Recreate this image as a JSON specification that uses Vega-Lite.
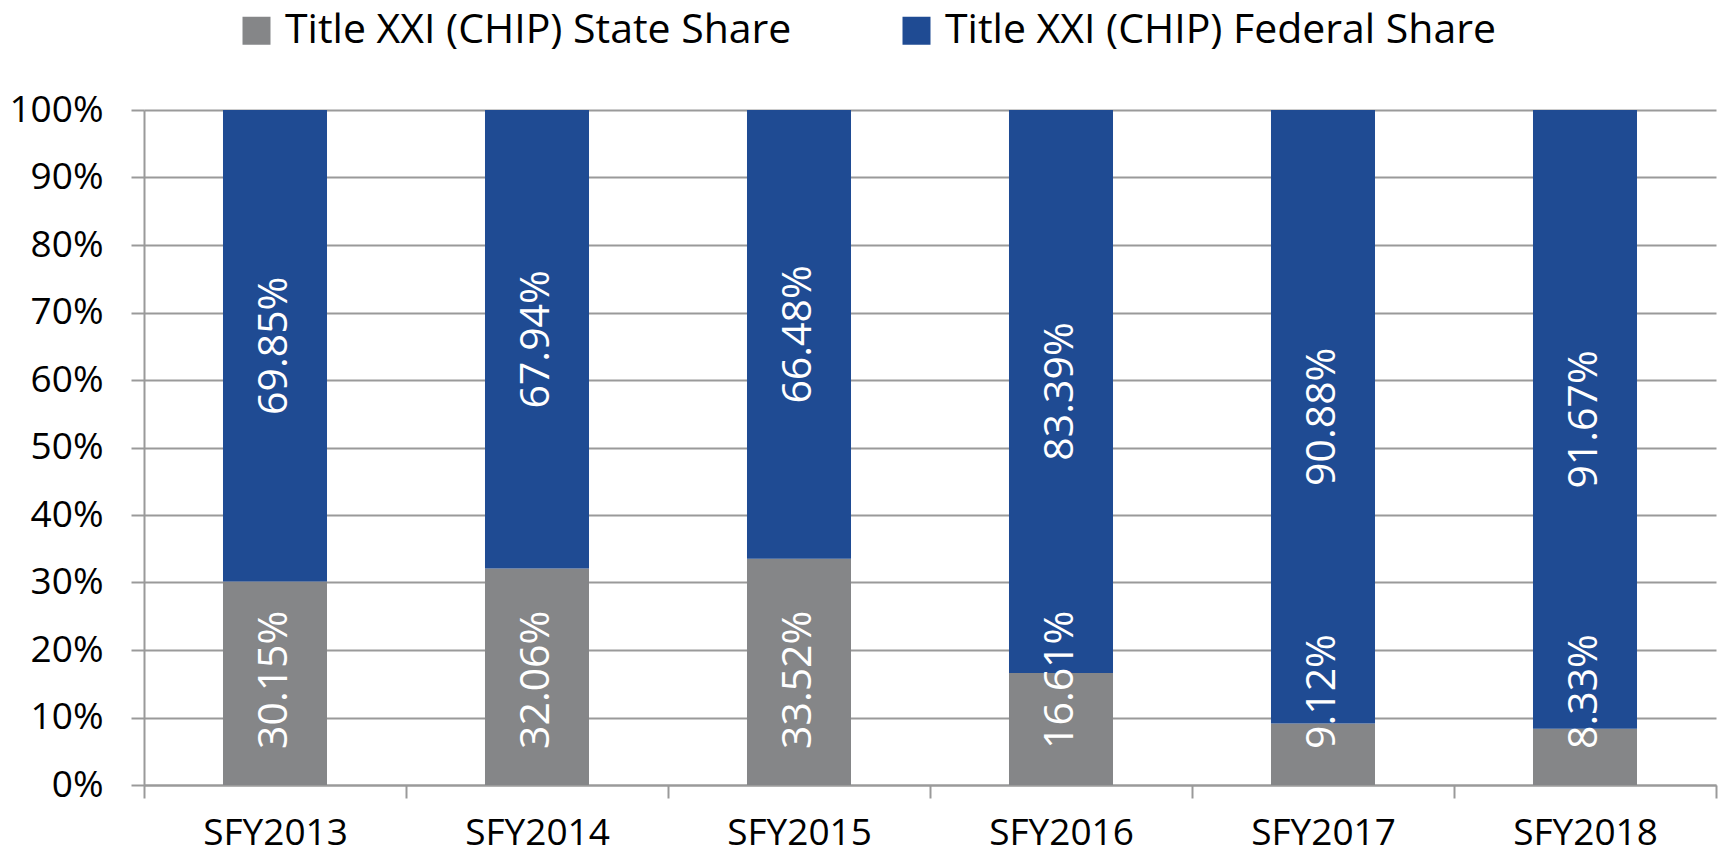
{
  "$schema": "https://vega.github.io/schema/vega-lite/v6.json",
  "width": 1572,
  "height": 675,
  "autosize": {"type": "none"},
  "padding": {"left": 144, "top": 110, "right": 5, "bottom": 71},
  "background": "white",
  "config": {"view": {"stroke": null}, "font": "Open Sans"},
  "data": {
    "values": [
      {"year": "SFY2013", "series": "Title XXI (CHIP) State Share", "share": 0.3015},
      {"year": "SFY2013", "series": "Title XXI (CHIP) Federal Share", "share": 0.6985},
      {"year": "SFY2014", "series": "Title XXI (CHIP) State Share", "share": 0.3206},
      {"year": "SFY2014", "series": "Title XXI (CHIP) Federal Share", "share": 0.6794},
      {"year": "SFY2015", "series": "Title XXI (CHIP) State Share", "share": 0.3352},
      {"year": "SFY2015", "series": "Title XXI (CHIP) Federal Share", "share": 0.6648},
      {"year": "SFY2016", "series": "Title XXI (CHIP) State Share", "share": 0.1661},
      {"year": "SFY2016", "series": "Title XXI (CHIP) Federal Share", "share": 0.8339},
      {"year": "SFY2017", "series": "Title XXI (CHIP) State Share", "share": 0.0912},
      {"year": "SFY2017", "series": "Title XXI (CHIP) Federal Share", "share": 0.9088},
      {"year": "SFY2018", "series": "Title XXI (CHIP) State Share", "share": 0.0833},
      {"year": "SFY2018", "series": "Title XXI (CHIP) Federal Share", "share": 0.9167}
    ]
  },
  "transform": [
    {"stack": "share", "groupby": ["year"], "sort": [{"field": "series", "order": "descending"}], "as": ["s0", "s1"]},
    {"calculate": "(datum.s0 + datum.s1) / 2", "as": "mid"}
  ],
  "encoding": {
    "x": {
      "field": "year",
      "type": "nominal",
      "sort": null,
      "scale": {"paddingInner": 0, "paddingOuter": 0},
      "axis": {
        "title": null,
        "labelAngle": 0,
        "labelFontSize": 37,
        "labelColor": "#000000",
        "labelPadding": 17,
        "tickBand": "extent",
        "tickSize": 13,
        "tickColor": "#9A9A9A",
        "tickWidth": 2,
        "domainColor": "#9A9A9A",
        "domainWidth": 2,
        "grid": false
      }
    }
  },
  "layer": [
    {
      "mark": {"type": "bar", "width": {"band": 0.397}},
      "encoding": {
        "y": {
          "field": "s0",
          "type": "quantitative",
          "scale": {"domain": [0, 1], "nice": false},
          "axis": {
            "title": null,
            "format": ".0%",
            "values": [0, 0.1, 0.2, 0.3, 0.4, 0.5, 0.6, 0.7, 0.8, 0.9, 1],
            "labelFontSize": 37,
            "labelColor": "#000000",
            "labelPadding": 28,
            "tickSize": 13,
            "tickColor": "#9A9A9A",
            "tickWidth": 2,
            "domainColor": "#9A9A9A",
            "domainWidth": 2,
            "grid": true,
            "gridColor": "#9A9A9A",
            "gridWidth": 2
          }
        },
        "y2": {"field": "s1"},
        "color": {
          "field": "series",
          "type": "nominal",
          "scale": {
            "domain": ["Title XXI (CHIP) State Share", "Title XXI (CHIP) Federal Share"],
            "range": ["#858688", "#1F4B93"]
          },
          "legend": {
            "title": null,
            "orient": "none",
            "legendX": 92,
            "legendY": -100,
            "direction": "horizontal",
            "symbolType": "square",
            "symbolSize": 784,
            "symbolStrokeWidth": 0,
            "labelFontSize": 41,
            "labelColor": "#000000",
            "labelOffset": 8,
            "columnPadding": 104,
            "padding": 0,
            "labelLimit": 1000
          }
        }
      }
    },
    {
      "transform": [{"filter": "datum.series === 'Title XXI (CHIP) Federal Share'"}],
      "mark": {"type": "text", "angle": 270, "align": "center", "baseline": "middle", "fontSize": 41, "color": "#FFFFFF"},
      "encoding": {
        "y": {"field": "mid", "type": "quantitative"},
        "text": {"field": "share", "type": "quantitative", "format": ".2%"}
      }
    },
    {
      "transform": [{"filter": "datum.series === 'Title XXI (CHIP) State Share'"}],
      "mark": {"type": "text", "angle": 270, "align": "left", "baseline": "middle", "fontSize": 41, "color": "#FFFFFF", "dx": 36},
      "encoding": {
        "y": {"datum": 0, "type": "quantitative"},
        "text": {"field": "share", "type": "quantitative", "format": ".2%"}
      }
    }
  ]
}
